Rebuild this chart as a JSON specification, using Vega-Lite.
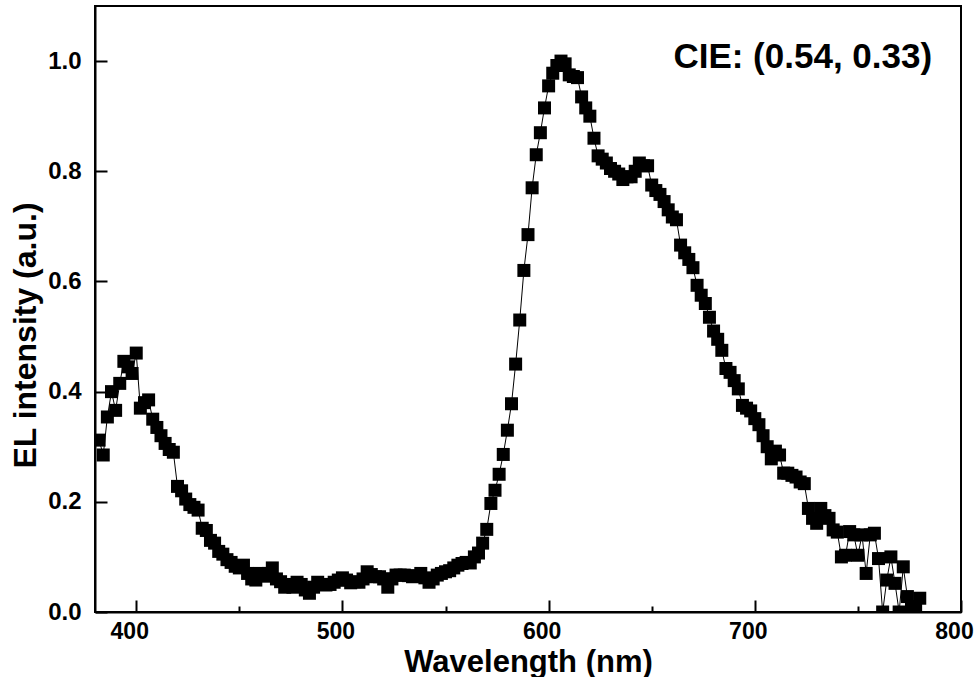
{
  "$schema": "https://vega.github.io/schema/vega-lite/v6.json",
  "width": 866,
  "height": 606,
  "autosize": {"type": "none"},
  "padding": {"left": 95, "top": 6, "right": 17, "bottom": 65},
  "background": "white",
  "config": {"view": {"stroke": "black", "strokeWidth": 2}, "font": "Liberation Sans"},
  "data": {"values": [
    {"wl":382,"v":0.312},{"wl":384,"v":0.285},{"wl":386,"v":0.354},{"wl":388,"v":0.400},{"wl":390,"v":0.366},
    {"wl":392,"v":0.415},{"wl":394,"v":0.455},{"wl":396,"v":0.445},{"wl":398,"v":0.433},{"wl":400,"v":0.470},
    {"wl":402,"v":0.370},{"wl":404,"v":0.380},{"wl":406,"v":0.385},{"wl":408,"v":0.350},{"wl":410,"v":0.335},
    {"wl":412,"v":0.320},{"wl":414,"v":0.306},{"wl":416,"v":0.295},{"wl":418,"v":0.290},{"wl":420,"v":0.228},
    {"wl":422,"v":0.220},{"wl":424,"v":0.205},{"wl":426,"v":0.195},{"wl":428,"v":0.190},{"wl":430,"v":0.185},
    {"wl":432,"v":0.152},{"wl":434,"v":0.148},{"wl":436,"v":0.130},{"wl":438,"v":0.125},{"wl":440,"v":0.110},
    {"wl":442,"v":0.105},{"wl":444,"v":0.095},{"wl":446,"v":0.090},{"wl":448,"v":0.083},{"wl":450,"v":0.080},
    {"wl":452,"v":0.085},{"wl":454,"v":0.070},{"wl":456,"v":0.060},{"wl":458,"v":0.058},{"wl":460,"v":0.070},
    {"wl":462,"v":0.065},{"wl":464,"v":0.070},{"wl":466,"v":0.080},{"wl":468,"v":0.060},{"wl":470,"v":0.055},
    {"wl":472,"v":0.045},{"wl":474,"v":0.050},{"wl":476,"v":0.045},{"wl":478,"v":0.054},{"wl":480,"v":0.050},
    {"wl":482,"v":0.040},{"wl":484,"v":0.034},{"wl":486,"v":0.045},{"wl":488,"v":0.054},{"wl":490,"v":0.050},
    {"wl":492,"v":0.049},{"wl":494,"v":0.050},{"wl":496,"v":0.054},{"wl":498,"v":0.058},{"wl":500,"v":0.062},
    {"wl":502,"v":0.058},{"wl":504,"v":0.053},{"wl":506,"v":0.055},{"wl":508,"v":0.054},{"wl":510,"v":0.060},
    {"wl":512,"v":0.073},{"wl":514,"v":0.068},{"wl":516,"v":0.064},{"wl":518,"v":0.064},{"wl":520,"v":0.060},
    {"wl":522,"v":0.045},{"wl":524,"v":0.060},{"wl":526,"v":0.067},{"wl":528,"v":0.067},{"wl":530,"v":0.067},
    {"wl":532,"v":0.066},{"wl":534,"v":0.064},{"wl":536,"v":0.065},{"wl":538,"v":0.070},{"wl":540,"v":0.062},
    {"wl":542,"v":0.054},{"wl":544,"v":0.060},{"wl":546,"v":0.067},{"wl":548,"v":0.070},{"wl":550,"v":0.073},
    {"wl":552,"v":0.075},{"wl":554,"v":0.080},{"wl":556,"v":0.085},{"wl":558,"v":0.088},{"wl":560,"v":0.090},
    {"wl":562,"v":0.089},{"wl":564,"v":0.100},{"wl":566,"v":0.107},{"wl":568,"v":0.125},{"wl":570,"v":0.150},
    {"wl":572,"v":0.197},{"wl":574,"v":0.221},{"wl":576,"v":0.250},{"wl":578,"v":0.286},{"wl":580,"v":0.330},
    {"wl":582,"v":0.378},{"wl":584,"v":0.450},{"wl":586,"v":0.530},{"wl":588,"v":0.620},{"wl":590,"v":0.685},
    {"wl":592,"v":0.770},{"wl":594,"v":0.830},{"wl":596,"v":0.870},{"wl":598,"v":0.915},{"wl":600,"v":0.955},
    {"wl":602,"v":0.978},{"wl":604,"v":0.992},{"wl":606,"v":1.000},{"wl":608,"v":0.995},{"wl":610,"v":0.975},
    {"wl":612,"v":0.972},{"wl":614,"v":0.970},{"wl":616,"v":0.935},{"wl":618,"v":0.915},{"wl":620,"v":0.900},
    {"wl":622,"v":0.860},{"wl":624,"v":0.828},{"wl":626,"v":0.822},{"wl":628,"v":0.815},{"wl":630,"v":0.805},
    {"wl":632,"v":0.800},{"wl":634,"v":0.795},{"wl":636,"v":0.785},{"wl":638,"v":0.790},{"wl":640,"v":0.790},
    {"wl":642,"v":0.800},{"wl":644,"v":0.815},{"wl":646,"v":0.810},{"wl":648,"v":0.810},{"wl":650,"v":0.775},
    {"wl":652,"v":0.765},{"wl":654,"v":0.758},{"wl":656,"v":0.745},{"wl":658,"v":0.730},{"wl":660,"v":0.717},
    {"wl":662,"v":0.712},{"wl":664,"v":0.666},{"wl":666,"v":0.652},{"wl":668,"v":0.640},{"wl":670,"v":0.625},
    {"wl":672,"v":0.593},{"wl":674,"v":0.575},{"wl":676,"v":0.560},{"wl":678,"v":0.535},{"wl":680,"v":0.510},
    {"wl":682,"v":0.495},{"wl":684,"v":0.475},{"wl":686,"v":0.442},{"wl":688,"v":0.435},{"wl":690,"v":0.420},
    {"wl":692,"v":0.405},{"wl":694,"v":0.375},{"wl":696,"v":0.370},{"wl":698,"v":0.365},{"wl":700,"v":0.351},
    {"wl":702,"v":0.340},{"wl":704,"v":0.320},{"wl":706,"v":0.300},{"wl":708,"v":0.278},{"wl":710,"v":0.292},
    {"wl":712,"v":0.285},{"wl":714,"v":0.252},{"wl":716,"v":0.252},{"wl":718,"v":0.248},{"wl":720,"v":0.245},
    {"wl":722,"v":0.236},{"wl":724,"v":0.233},{"wl":726,"v":0.188},{"wl":728,"v":0.170},{"wl":730,"v":0.161},
    {"wl":732,"v":0.188},{"wl":734,"v":0.175},{"wl":736,"v":0.170},{"wl":738,"v":0.149},{"wl":740,"v":0.145},
    {"wl":742,"v":0.100},{"wl":744,"v":0.103},{"wl":746,"v":0.146},{"wl":748,"v":0.140},{"wl":750,"v":0.103},
    {"wl":752,"v":0.140},{"wl":754,"v":0.070},{"wl":756,"v":0.140},{"wl":758,"v":0.143},{"wl":760,"v":0.097},
    {"wl":762,"v":0.000},{"wl":764,"v":0.058},{"wl":766,"v":0.100},{"wl":768,"v":0.052},{"wl":770,"v":0.000},
    {"wl":772,"v":0.082},{"wl":774,"v":0.028},{"wl":776,"v":0.007},{"wl":778,"v":0.010},{"wl":780,"v":0.025}
  ]},
  "layer": [
    {
      "mark": {"type": "line", "color": "black", "strokeWidth": 1, "clip": true},
      "encoding": {
        "x": {"field": "wl", "type": "quantitative",
          "scale": {"domain": [380, 800], "nice": false, "zero": false},
          "axis": {"orient": "bottom", "values": [400, 500, 600, 700, 800], "grid": false, "ticks": false,
            "domainColor": "black", "domainWidth": 2, "labelFlush": false, "labelOverlap": false,
            "labelFont": "Liberation Sans", "labelFontWeight": "bold", "labelFontSize": 23, "labelColor": "black",
            "labelPadding": 8, "labelOffset": -7,
            "title": "Wavelength (nm)", "titleFont": "Liberation Sans", "titleFontWeight": "bold", "titleFontSize": 31,
            "titleColor": "black", "titleBaseline": "alphabetic", "titleY": 59}},
        "y": {"field": "v", "type": "quantitative",
          "scale": {"domain": [0, 1.1], "nice": false, "zero": false},
          "axis": {"orient": "left", "values": [0, 0.2, 0.4, 0.6, 0.8, 1.0], "format": ".1f", "grid": false, "ticks": false,
            "domainColor": "black", "domainWidth": 2, "labelFlush": false, "labelOverlap": false,
            "labelFont": "Liberation Sans", "labelFontWeight": "bold", "labelFontSize": 24, "labelColor": "black",
            "labelPadding": 14,
            "title": "EL intensity (a.u.)", "titleFont": "Liberation Sans", "titleFontWeight": "bold", "titleFontSize": 32,
            "titleColor": "black", "titleBaseline": "alphabetic", "titleAngle": -90, "titleX": -60, "titleY": 329, "titleAlign": "center"}}
      }
    },
    {
      "mark": {"type": "point", "shape": "square", "filled": true, "size": 169, "color": "black", "opacity": 1, "clip": true},
      "encoding": {
        "x": {"field": "wl", "type": "quantitative",
          "axis": {"orient": "bottom", "values": [400, 500, 600, 700, 800], "grid": false, "labels": false, "domain": false,
            "tickSize": -12, "tickWidth": 2, "tickColor": "black", "title": null}},
        "y": {"field": "v", "type": "quantitative",
          "axis": {"orient": "left", "values": [0, 0.2, 0.4, 0.6, 0.8, 1.0], "grid": false, "labels": false, "domain": false,
            "tickSize": -12, "tickWidth": 2, "tickColor": "black", "title": null}}
      }
    },
    {
      "data": {"values": [{"label": "CIE: (0.54, 0.33)"}]},
      "mark": {"type": "text", "font": "Liberation Sans", "fontWeight": "bold", "fontSize": 35, "color": "black", "align": "right", "baseline": "alphabetic"},
      "encoding": {
        "x": {"datum": 786, "type": "quantitative",
          "axis": {"orient": "bottom", "values": [450, 550, 650, 750], "grid": false, "labels": false, "domain": false,
            "tickSize": -6, "tickWidth": 2, "tickColor": "black", "title": null}},
        "y": {"datum": 0.988, "type": "quantitative", "axis": null},
        "text": {"field": "label", "type": "nominal"}
      }
    }
  ],
  "resolve": {"axis": {"x": "independent", "y": "independent"}}
}
